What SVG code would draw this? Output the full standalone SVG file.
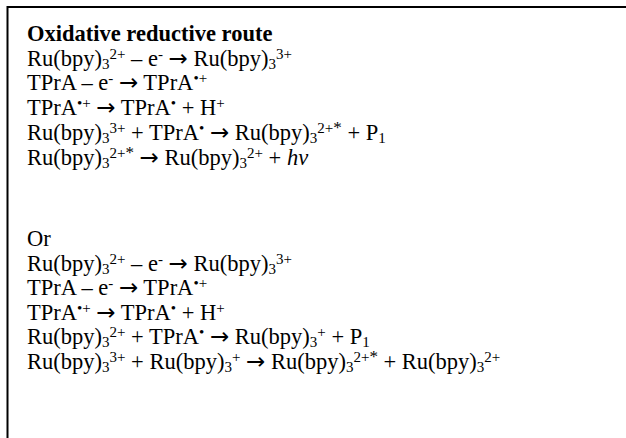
<svg xmlns="http://www.w3.org/2000/svg" width="626" height="438" viewBox="0 0 626 438">
<style>
text{font-family:"Liberation Serif","Times New Roman",serif;font-size:22.5px;fill:#000}
.t{font-weight:bold}
.b{font-size:15px}
.s{font-size:15px}
.k{font-size:17px}
.a{font-family:"DejaVu Sans",sans-serif;font-size:23px}
.i{font-style:italic}
.frame{fill:none;stroke:#000;stroke-width:2}
</style>
<rect width="626" height="438" fill="#fff"/>
<path class="frame" d="M7.5 438V7H626"/>
<g id="route1">
<text class="t" x="27" y="41">Oxidative reductive route</text>
<text x="27" y="66">Ru(bpy)<tspan class="b" dy="3">3</tspan><tspan class="s" dy="-10">2+</tspan><tspan dy="7"> – e</tspan><tspan class="s" dy="-7">-</tspan><tspan dy="7"> </tspan><tspan class="a">→</tspan><tspan> Ru(bpy)</tspan><tspan class="b" dy="3">3</tspan><tspan class="s" dy="-10">3+</tspan></text>
<text x="27" y="90">TPrA – e<tspan class="s" dy="-7">-</tspan><tspan dy="7"> </tspan><tspan class="a">→</tspan><tspan> TPrA</tspan><tspan class="s" dy="-7">•+</tspan></text>
<text x="27" y="115">TPrA<tspan class="s" dy="-7">•+</tspan><tspan dy="7"> </tspan><tspan class="a">→</tspan><tspan> TPrA</tspan><tspan class="s" dy="-7">•</tspan><tspan dy="7"> + H</tspan><tspan class="s" dy="-7">+</tspan></text>
<text x="27" y="140">Ru(bpy)<tspan class="b" dy="3">3</tspan><tspan class="s" dy="-10">3+</tspan><tspan dy="7"> + TPrA</tspan><tspan class="s" dy="-7">•</tspan><tspan dy="7"> </tspan><tspan class="a">→</tspan><tspan> Ru(bpy)</tspan><tspan class="b" dy="3">3</tspan><tspan class="s" dy="-10">2+</tspan><tspan class="k">*</tspan><tspan dy="7"> + P</tspan><tspan class="b" dy="3">1</tspan></text>
<text x="27" y="165">Ru(bpy)<tspan class="b" dy="3">3</tspan><tspan class="s" dy="-10">2+</tspan><tspan class="k">*</tspan><tspan dy="7"> </tspan><tspan class="a">→</tspan><tspan> Ru(bpy)</tspan><tspan class="b" dy="3">3</tspan><tspan class="s" dy="-10">2+</tspan><tspan dy="7"> + </tspan><tspan class="i">hv</tspan></text>
</g>
<g id="route2">
<text x="27" y="246">Or</text>
<text x="27" y="270.6">Ru(bpy)<tspan class="b" dy="3">3</tspan><tspan class="s" dy="-10">2+</tspan><tspan dy="7"> – e</tspan><tspan class="s" dy="-7">-</tspan><tspan dy="7"> </tspan><tspan class="a">→</tspan><tspan> Ru(bpy)</tspan><tspan class="b" dy="3">3</tspan><tspan class="s" dy="-10">3+</tspan></text>
<text x="27" y="295.2">TPrA – e<tspan class="s" dy="-7">-</tspan><tspan dy="7"> </tspan><tspan class="a">→</tspan><tspan> TPrA</tspan><tspan class="s" dy="-7">•+</tspan></text>
<text x="27" y="319.8">TPrA<tspan class="s" dy="-7">•+</tspan><tspan dy="7"> </tspan><tspan class="a">→</tspan><tspan> TPrA</tspan><tspan class="s" dy="-7">•</tspan><tspan dy="7"> + H</tspan><tspan class="s" dy="-7">+</tspan></text>
<text x="27" y="344.4">Ru(bpy)<tspan class="b" dy="3">3</tspan><tspan class="s" dy="-10">2+</tspan><tspan dy="7"> + TPrA</tspan><tspan class="s" dy="-7">•</tspan><tspan dy="7"> </tspan><tspan class="a">→</tspan><tspan> Ru(bpy)</tspan><tspan class="b" dy="3">3</tspan><tspan class="s" dy="-10">+</tspan><tspan dy="7"> + P</tspan><tspan class="b" dy="3">1</tspan></text>
<text x="27" y="369">Ru(bpy)<tspan class="b" dy="3">3</tspan><tspan class="s" dy="-10">3+</tspan><tspan dy="7"> + Ru(bpy)</tspan><tspan class="b" dy="3">3</tspan><tspan class="s" dy="-10">+</tspan><tspan dy="7"> </tspan><tspan class="a">→</tspan><tspan> Ru(bpy)</tspan><tspan class="b" dy="3">3</tspan><tspan class="s" dy="-10">2+</tspan><tspan class="k">*</tspan><tspan dy="7"> + Ru(bpy)</tspan><tspan class="b" dy="3">3</tspan><tspan class="s" dy="-10">2+</tspan></text>
</g>
</svg>
